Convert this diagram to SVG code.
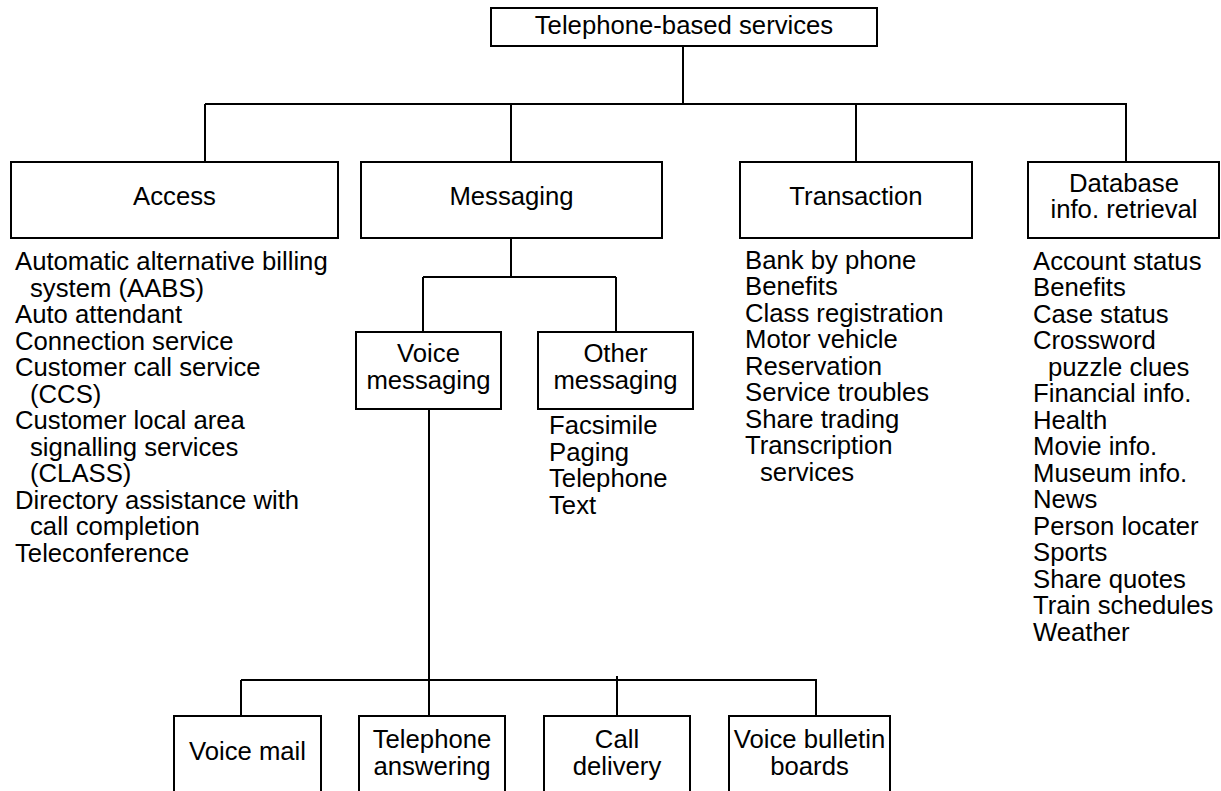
<svg xmlns="http://www.w3.org/2000/svg" width="1221" height="791" viewBox="0 0 1221 791">
<style>
  .box { fill: #ffffff; stroke: #000000; stroke-width: 2; }
  .ln { fill: none; stroke: #000000; stroke-width: 2; }
  text { font-family: "Liberation Sans", Arial, sans-serif; font-size: 25.7px; fill: #000000; }
  .c { text-anchor: middle; }
</style>
<rect width="1221" height="791" fill="#ffffff"/>
<g id="connectors">
  <path class="ln" d="M683,46 V104 M205,104 H1127 M205,104 V162 M511,104 V162 M856,104 V162 M1126,104 V162"/>
  <path class="ln" d="M511,238 V277 M423,277 H616 M423,277 V332 M616,277 V332"/>
  <path class="ln" d="M429,409 V716 M241,680 H817 M241,680 V716 M617,676 V716 M816,680 V716"/>
</g>
<g id="n-root">
  <rect class="box" x="491" y="8" width="386" height="38"/>
  <text class="c" x="684" y="34">Telephone-based services</text>
</g>
<g id="n-access">
  <rect class="box" x="11" y="162" width="327" height="76"/>
  <text class="c" x="174.5" y="205">Access</text>
</g>
<g id="n-access-list">
  <text x="15" y="270">Automatic alternative billing</text>
  <text x="30" y="296.5">system (AABS)</text>
  <text x="15" y="323">Auto attendant</text>
  <text x="15" y="349.5">Connection service</text>
  <text x="15" y="376">Customer call service</text>
  <text x="30" y="402.5">(CCS)</text>
  <text x="15" y="429">Customer local area</text>
  <text x="30" y="455.5">signalling services</text>
  <text x="30" y="482">(CLASS)</text>
  <text x="15" y="508.5">Directory assistance with</text>
  <text x="30" y="535">call completion</text>
  <text x="15" y="561.5">Teleconference</text>
</g>
<g id="n-messaging">
  <rect class="box" x="361" y="162" width="301" height="76"/>
  <text class="c" x="511.5" y="205">Messaging</text>
</g>
<g id="n-transaction">
  <rect class="box" x="740" y="162" width="232" height="76"/>
  <text class="c" x="856" y="205">Transaction</text>
</g>
<g id="n-transaction-list">
  <text x="745" y="268.5">Bank by phone</text>
  <text x="745" y="295">Benefits</text>
  <text x="745" y="321.5">Class registration</text>
  <text x="745" y="348">Motor vehicle</text>
  <text x="745" y="374.5">Reservation</text>
  <text x="745" y="401">Service troubles</text>
  <text x="745" y="427.5">Share trading</text>
  <text x="745" y="454">Transcription</text>
  <text x="760" y="480.5">services</text>
</g>
<g id="n-database">
  <rect class="box" x="1028" y="162" width="191" height="76"/>
  <text class="c" x="1124" y="192">Database</text>
  <text class="c" x="1124" y="218">info. retrieval</text>
</g>
<g id="n-database-list">
  <text x="1033" y="269.5">Account status</text>
  <text x="1033" y="296">Benefits</text>
  <text x="1033" y="322.5">Case status</text>
  <text x="1033" y="349">Crossword</text>
  <text x="1048" y="375.5">puzzle clues</text>
  <text x="1033" y="402">Financial info.</text>
  <text x="1033" y="428.5">Health</text>
  <text x="1033" y="455">Movie info.</text>
  <text x="1033" y="481.5">Museum info.</text>
  <text x="1033" y="508">News</text>
  <text x="1033" y="534.5">Person locater</text>
  <text x="1033" y="561">Sports</text>
  <text x="1033" y="587.5">Share quotes</text>
  <text x="1033" y="614">Train schedules</text>
  <text x="1033" y="640.5">Weather</text>
</g>
<g id="n-voice-messaging">
  <rect class="box" x="356" y="332" width="145" height="77"/>
  <text class="c" x="428.5" y="362">Voice</text>
  <text class="c" x="428.5" y="388.5">messaging</text>
</g>
<g id="n-other-messaging">
  <rect class="box" x="538" y="332" width="155" height="77"/>
  <text class="c" x="615.5" y="362">Other</text>
  <text class="c" x="615.5" y="388.5">messaging</text>
</g>
<g id="n-other-list">
  <text x="549" y="434">Facsimile</text>
  <text x="549" y="460.5">Paging</text>
  <text x="549" y="487">Telephone</text>
  <text x="549" y="513.5">Text</text>
</g>
<g id="n-voice-mail">
  <rect class="box" x="174" y="716" width="147" height="90"/>
  <text class="c" x="247.5" y="760">Voice mail</text>
</g>
<g id="n-telephone-answering">
  <rect class="box" x="359" y="716" width="146" height="90"/>
  <text class="c" x="432" y="748">Telephone</text>
  <text class="c" x="432" y="775">answering</text>
</g>
<g id="n-call-delivery">
  <rect class="box" x="544" y="716" width="146" height="90"/>
  <text class="c" x="617" y="748">Call</text>
  <text class="c" x="617" y="775">delivery</text>
</g>
<g id="n-voice-bulletin">
  <rect class="box" x="729" y="716" width="161" height="90"/>
  <text class="c" x="809.5" y="748">Voice bulletin</text>
  <text class="c" x="809.5" y="775">boards</text>
</g>
</svg>
